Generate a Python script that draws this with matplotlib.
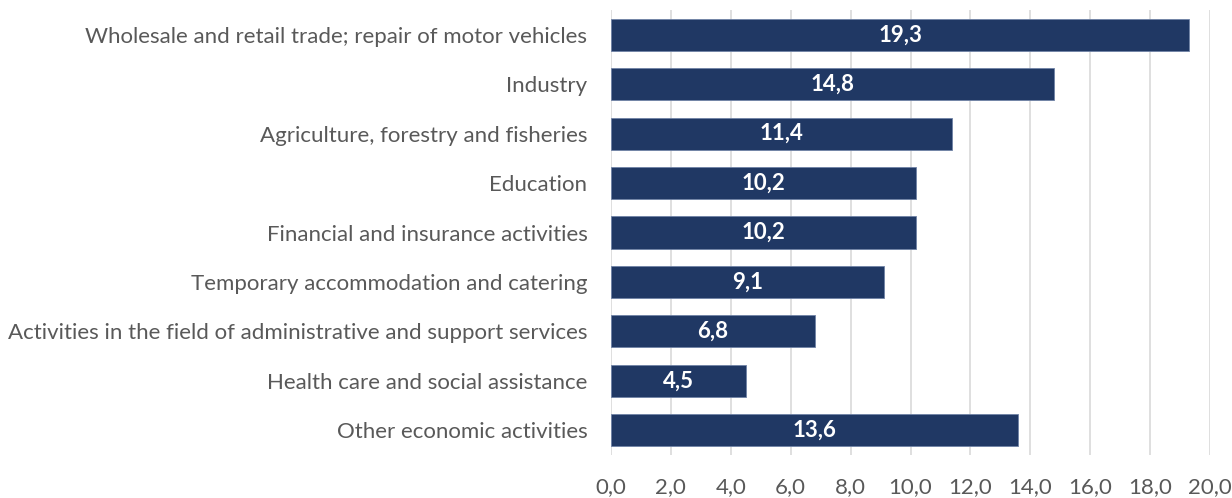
import matplotlib
matplotlib.use('Agg')
import matplotlib.pyplot as plt

categorias = [
    'Wholesale and retail trade; repair of motor vehicles',
    'Industry',
    'Agriculture, forestry and fisheries',
    'Education',
    'Financial and insurance activities',
    'Temporary accommodation and catering',
    'Activities in the field of administrative and support services',
    'Health care and social assistance',
    'Other economic activities',
]
valores = [19.3, 14.8, 11.4, 10.2, 10.2, 9.1, 6.8, 4.5, 13.6]
ticks_x = [0, 2, 4, 6, 8, 10, 12, 14, 16, 18, 20]

plt.rcParams['font.family'] = ['Lato', 'DejaVu Sans']

fig = plt.figure(figsize=(12.32, 4.98), dpi=100)
ax = fig.add_axes([611 / 1232, 1 - 455 / 498, 599 / 1232, 445 / 498])

y = list(range(len(categorias)))
bars = ax.barh(y, valores, height=0.65, color='#203864', edgecolor='#6f82a6', linewidth=0.6, zorder=3)
ax.set_ylim(len(categorias) - 0.5, -0.5)
ax.set_xlim(0, 20)
ax.set_yticks(y)
ax.set_yticklabels(categorias, fontsize=16, color='#595959')
ax.set_xticks(ticks_x)
ax.set_xticklabels([f'{t:.1f}'.replace('.', ',') for t in ticks_x], fontsize=16, color='#595959')
ax.tick_params(axis='x', length=0, pad=16)
ax.tick_params(axis='y', length=0, pad=17)
ax.grid(axis='x', color='#d9d9d9', linewidth=1.2, zorder=0)
for s in ax.spines.values():
    s.set_visible(False)

for b, v in zip(bars, valores):
    ax.text(v / 2, b.get_y() + b.get_height() / 2, f'{v:.1f}'.replace('.', ','),
            ha='center', va='center', color='white', fontsize=16, fontweight='bold', zorder=4)

fig.savefig('out.png', dpi=100)
